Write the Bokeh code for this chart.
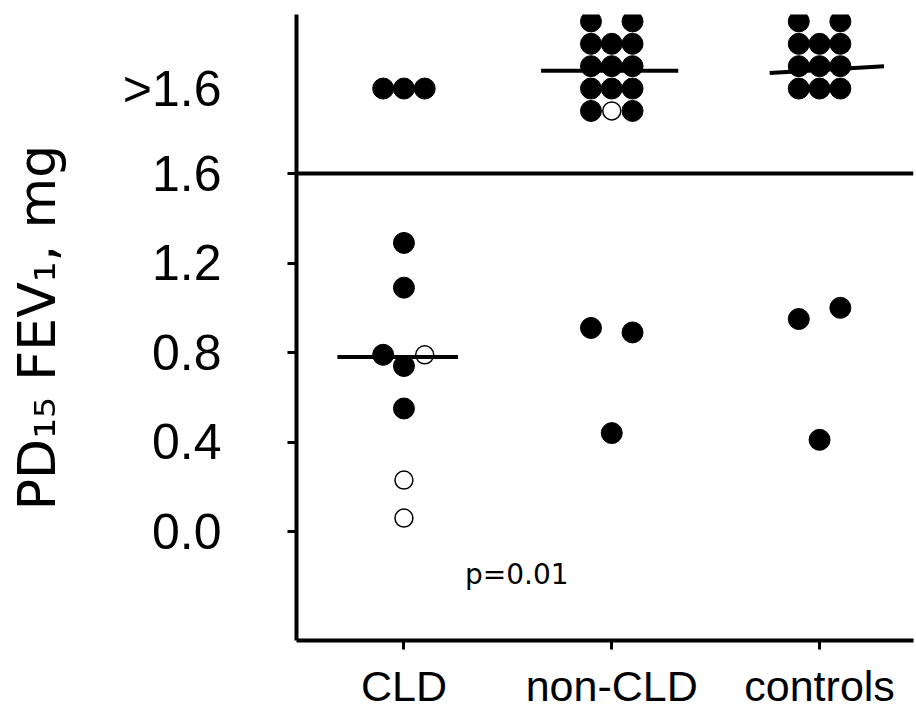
from bokeh.plotting import figure
from bokeh.models import Range1d, FixedTicker, NumeralTickFormatter, Span, Label
from bokeh.embed import file_html
from bokeh.resources import INLINE

# ---- data ----
categories = ["CLD", "non-CLD", "controls"]
y_ticks = [0.0, 0.4, 0.8, 1.2, 1.6]
above_label = ">1.6"
above_level = 1.98  # row of the ">1.6" label

# filled points: group index (1..3), column in the dot-plot (-1, 0, 1), value
filled_group = [1, 1, 1, 1, 1, 1, 1, 1,
                2, 2, 2, 2, 2, 2, 2, 2, 2, 2, 2, 2, 2, 2, 2, 2,
                3, 3, 3, 3, 3, 3, 3, 3, 3, 3, 3, 3, 3, 3]
filled_col = [-1, 0, 1, 0, 0, -1, 0, 0,
              -1, 1, -1, 0, 1, -1, 0, 1, -1, 0, 1, -1, 1, -1, 1, 0,
              -1, 1, -1, 0, 1, -1, 0, 1, -1, 0, 1, -1, 1, 0]
filled_val = [1.98, 1.98, 1.98, 1.29, 1.09, 0.79, 0.74, 0.55,
              2.28, 2.28, 2.18, 2.18, 2.18, 2.08, 2.08, 2.08, 1.98, 1.98, 1.98, 1.88, 1.88, 0.91, 0.89, 0.44,
              2.28, 2.28, 2.18, 2.18, 2.18, 2.08, 2.08, 2.08, 1.98, 1.98, 1.98, 0.95, 1.00, 0.41]

# open points
open_group = [1, 1, 1, 2]
open_col = [1, 0, 0, 0]
open_val = [0.79, 0.23, 0.06, 1.88]

# medians (left / right end values; the controls line is slightly tilted)
median_left = [0.78, 2.06, 2.05]
median_right = [0.78, 2.06, 2.08]
median_x0 = [-0.32, -0.34, -0.24]
median_x1 = [0.26, 0.32, 0.31]

p_text = "p=0.01"

# ---- figure ----
FONT = "Liberation Sans"
COL_STEP = 0.1

p = figure(width=916, height=715,
           x_range=Range1d(0.483, 3.452), y_range=Range1d(-0.487, 2.311),
           output_backend="svg", toolbar_location=None,
           min_border_left=296, min_border_right=3, min_border_top=14, min_border_bottom=75)
p.outline_line_color = None
p.grid.visible = False
p.background_fill_color = "white"
p.border_fill_color = "white"

# y axis: labels on major ticks (incl. ">1.6"), tick marks drawn as minor ticks
ya = p.yaxis[0]
ya.ticker = FixedTicker(ticks=y_ticks + [above_level], minor_ticks=y_ticks)
ya.formatter = NumeralTickFormatter(format="0.0")
ya.major_label_overrides = {above_level: above_label}
ya.axis_line_width = 4
ya.axis_line_color = "black"
ya.major_tick_in = 0
ya.major_tick_out = 0
ya.major_tick_line_color = None
ya.minor_tick_in = 0
ya.minor_tick_out = 9
ya.minor_tick_line_width = 3
ya.minor_tick_line_color = "black"
ya.major_label_text_font = FONT
ya.major_label_text_font_size = "50px"
ya.major_label_text_color = "black"
ya.major_label_standoff = 66
ya.axis_label = "PD\u2081\u2085 FEV\u2081, mg"
ya.axis_label_text_font = "DejaVu Sans"
ya.axis_label_text_font_size = "52px"
ya.axis_label_text_font_style = "normal"
ya.axis_label_text_color = "black"
ya.axis_label_standoff = 53

# x axis
xa = p.xaxis[0]
xa.ticker = FixedTicker(ticks=[1, 2, 3])
xa.major_label_overrides = {i + 1: c for i, c in enumerate(categories)}
xa.axis_line_width = 4
xa.axis_line_color = "black"
xa.major_tick_in = 0
xa.major_tick_out = 9
xa.major_tick_line_width = 3
xa.minor_tick_line_color = None
xa.major_label_text_font = FONT
xa.major_label_text_font_size = "43px"
xa.major_label_text_color = "black"
xa.major_label_standoff = 12

# separator line at 1.6
p.add_layout(Span(location=y_ticks[-1], dimension="width", line_color="black", line_width=4))

# points
fx = [g + c * COL_STEP for g, c in zip(filled_group, filled_col)]
p.scatter(x=fx, y=filled_val, size=21, marker="circle", fill_color="black", line_color="black")
ox = [g + c * COL_STEP for g, c in zip(open_group, open_col)]
p.scatter(x=ox, y=open_val, size=18, marker="circle", fill_color="white", line_color="black", line_width=1.5)

# medians
for i in range(3):
    g = i + 1
    p.line(x=[g + median_x0[i], g + median_x1[i]], y=[median_left[i], median_right[i]],
           line_color="black", line_width=4)

# p-value
p.add_layout(Label(x=1.543, y=-0.19, text=p_text, text_align="center", text_baseline="middle",
                   text_font="DejaVu Sans", text_font_size="28px", text_color="black"))

open("out.html", "w").write(file_html(p, INLINE))
